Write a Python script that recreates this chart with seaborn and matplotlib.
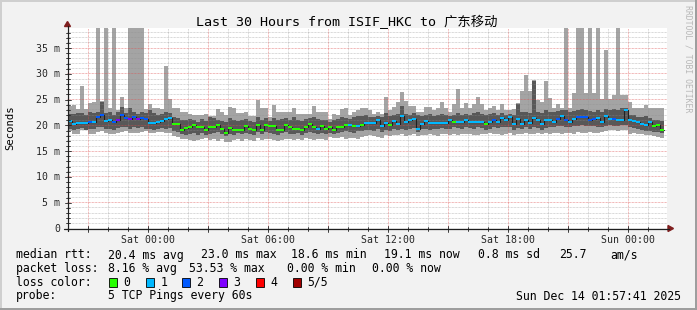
import numpy as np
import pandas as pd
import matplotlib
matplotlib.use("Agg")
import matplotlib.pyplot as plt
import seaborn as sns
from matplotlib.patches import Rectangle, Polygon
from matplotlib.lines import Line2D

# ---------------- data (ms), one entry per 12-minute bar, starting Fri 20:00 ----------------
ping_max = [23.6, 23.8, 23.0, 27.5, 23.0, 24.2, 24.4, 45, 24.6, 45,
            23.2, 45, 22.8, 25.5, 23.2, 45, 45, 45, 45, 23.0,
            24.0, 23.2, 23.2, 23.0, 31.5, 25.1, 23.3, 23.3, 22.5, 22.5,
            22.2, 21.9, 21.9, 22.0, 22.2, 21.7, 21.7, 23.0, 22.6, 21.9,
            23.5, 23.3, 22.3, 22.3, 22.6, 21.7, 21.7, 24.9, 23.2, 23.2,
            21.6, 23.8, 22.5, 22.5, 22.5, 22.5, 23.3, 22.2, 22.2, 22.1,
            22.2, 23.6, 22.5, 22.5, 22.5, 21.2, 22.2, 21.9, 23.0, 23.2,
            21.9, 22.5, 22.8, 23.2, 23.2, 22.8, 22.2, 22.5, 22.2, 25.4,
            22.8, 23.5, 24.4, 26.4, 24.6, 23.6, 23.6, 22.5, 22.6, 23.5,
            23.5, 22.8, 23.2, 24.4, 23.2, 22.5, 24.1, 27.0, 23.3, 24.2,
            23.3, 24.0, 25.4, 24.0, 22.8, 23.3, 23.6, 22.8, 24.0, 22.8,
            22.8, 23.0, 24.3, 26.5, 29.6, 26.5, 28.7, 24.8, 24.5, 28.6,
            25.3, 23.2, 24.0, 23.2, 45, 23.2, 26.2, 45, 45, 26.2,
            45, 26.2, 45, 25.1, 34.6, 25.1, 25.8, 45, 25.8, 25.8,
            24.4, 23.2, 23.2, 23.2, 23.8, 23.2, 23.2, 23.2, 23.2]
ping_p4 = [22.1, 22.1, 22.3, 22.3, 22.0, 22.5, 22.3, 22.6, 24.4, 22.3,
           22.5, 22.0, 22.6, 23.5, 22.4, 23.2, 22.5, 22.2, 22.6, 22.3,
           22.8, 22.4, 22.0, 22.2, 22.6, 22.4, 21.5, 21.4, 21.0, 20.9,
           21.2, 21.0, 20.6, 21.2, 20.8, 21.5, 21.3, 21.0, 20.8, 20.6,
           21.4, 21.0, 20.7, 20.9, 21.2, 20.8, 20.6, 21.6, 21.0, 21.3,
           20.8, 21.4, 20.9, 21.1, 21.3, 20.9, 21.5, 21.0, 20.8, 21.1,
           21.4, 21.6, 21.2, 21.0, 20.9, 20.6, 21.0, 21.2, 21.6, 21.4,
           21.1, 21.5, 21.7, 21.8, 21.9, 21.6, 21.5, 21.8, 21.6, 22.4,
           21.8, 22.0, 22.2, 23.6, 22.1, 22.0, 22.3, 21.9, 21.7, 22.0,
           22.1, 21.8, 21.9, 22.2, 22.0, 21.7, 21.9, 22.3, 22.0, 22.2,
           22.0, 22.3, 22.5, 22.2, 21.9, 22.1, 22.4, 22.0, 22.3, 22.0,
           22.2, 22.0, 24.1, 22.6, 22.6, 22.3, 28.6, 22.6, 22.4, 22.8,
           22.6, 22.5, 22.7, 22.9, 22.8, 22.5, 22.7, 22.9, 23.1, 22.8,
           22.7, 22.6, 22.9, 22.6, 23.0, 22.8, 23.0, 22.8, 23.2, 23.3,
           22.0, 21.9, 21.6, 21.5, 21.7, 21.4, 20.9, 20.9, 20.8]
median = [20.8, 20.1, 20.4, 20.4, 20.4, 20.6, 20.6, 21.5, 22.0, 20.8,
          20.9, 20.5, 20.9, 22.0, 21.4, 21.2, 21.5, 21.2, 21.4, 21.1,
          20.4, 20.4, 20.6, 20.8, 21.2, 21.4, 20.1, 20.1, 19.1, 19.4,
          19.6, 20.0, 19.6, 19.6, 19.1, 19.6, 19.6, 20.0, 19.3, 18.5,
          19.4, 19.1, 19.1, 19.1, 19.7, 19.3, 19.0, 19.9, 19.1, 20.0,
          19.7, 19.7, 19.1, 19.1, 20.0, 19.6, 19.3, 19.3, 19.1, 19.5,
          20.2, 19.6, 19.3, 19.8, 19.2, 19.5, 19.1, 19.5, 19.5, 20.0,
          20.0, 19.7, 19.8, 20.0, 20.4, 20.4, 20.4, 20.9, 19.8, 20.4,
          20.0, 20.75, 20.25, 21.7, 20.6, 20.9, 21.1, 19.2, 20.25, 20.75,
          20.4, 20.4, 20.4, 20.4, 20.4, 20.9, 20.5, 20.5, 20.6, 20.9,
          20.6, 20.6, 20.6, 20.6, 20.1, 20.6, 20.9, 20.6, 21.35, 21.0,
          21.5, 20.1, 21.1, 20.25, 21.0, 20.4, 21.4, 20.9, 20.1, 20.9,
          20.9, 20.6, 21.2, 21.7, 21.0, 20.5, 21.1, 21.45, 21.45, 21.45,
          21.0, 21.2, 21.4, 20.6, 21.7, 21.2, 21.1, 21.0, 21.0, 22.9,
          21.0, 20.7, 20.5, 20.2, 20.0, 20.6, 19.7, 20.0, 19.1]
ping_p2 = [19.3, 19.0, 19.2, 19.4, 19.1, 19.3, 19.2, 19.5, 19.6, 19.2,
           19.3, 19.0, 19.4, 19.6, 19.5, 19.3, 19.6, 19.4, 19.5, 19.3,
           19.2, 19.1, 19.3, 19.4, 19.2, 19.4, 18.8, 18.6, 18.2, 18.0,
           18.3, 18.5, 18.1, 18.4, 18.0, 18.3, 18.5, 18.6, 18.2, 17.9,
           18.3, 18.1, 18.4, 18.2, 18.5, 18.3, 18.0, 18.6, 18.2, 18.6,
           18.4, 18.3, 18.1, 18.4, 18.6, 18.3, 18.2, 18.4, 18.1, 18.5,
           18.7, 18.4, 18.3, 18.5, 18.2, 18.4, 18.3, 18.5, 18.6, 18.8,
           18.7, 18.5, 18.8, 18.9, 19.0, 19.1, 18.9, 19.2, 18.6, 19.1,
           18.9, 19.2, 19.0, 19.3, 19.1, 19.3, 19.4, 18.6, 19.2, 19.3,
           19.1, 19.2, 19.3, 19.4, 19.2, 19.3, 19.5, 19.4, 19.3, 19.5,
           19.4, 19.3, 19.5, 19.4, 19.1, 19.3, 19.5, 19.4, 19.6, 19.5,
           19.6, 19.1, 19.4, 19.2, 19.5, 19.3, 19.6, 19.4, 19.1, 19.4,
           19.5, 19.6, 19.7, 19.8, 19.6, 19.5, 19.7, 19.8, 19.9, 19.8,
           19.7, 19.8, 19.6, 19.5, 19.8, 19.9, 19.7, 19.8, 19.9, 19.9,
           19.6, 19.4, 19.3, 19.0, 18.8, 18.9, 18.6, 18.7, 18.5]
ping_min = [18.8, 18.3, 18.3, 19.0, 19.0, 18.3, 18.3, 18.6, 18.8, 18.4,
            18.2, 18.2, 18.5, 18.6, 18.9, 18.4, 18.4, 18.5, 18.6, 18.9,
            18.4, 18.5, 18.6, 18.7, 18.5, 18.5, 17.8, 17.6, 17.3, 17.3,
            17.0, 16.9, 17.1, 17.2, 17.4, 17.0, 17.3, 16.9, 17.2, 16.7,
            16.7, 17.0, 17.2, 16.9, 17.3, 17.1, 16.8, 17.4, 17.0, 17.2,
            17.3, 17.0, 16.8, 17.1, 17.3, 17.2, 17.0, 17.3, 17.1, 17.4,
            17.3, 17.0, 17.2, 17.3, 17.1, 17.6, 17.5, 17.4, 17.6, 17.3,
            17.5, 17.4, 17.3, 17.6, 17.8, 18.0, 17.9, 17.6, 17.4, 18.0,
            17.9, 18.1, 18.0, 18.2, 17.9, 18.0, 18.2, 17.8, 18.1, 18.0,
            18.2, 18.1, 17.9, 18.2, 18.3, 18.0, 18.2, 18.1, 18.3, 18.2,
            18.3, 18.1, 18.0, 18.3, 18.2, 18.4, 18.2, 18.3, 18.1, 18.3,
            18.4, 18.0, 18.3, 18.2, 18.4, 18.3, 18.2, 18.4, 18.3, 18.5,
            18.2, 18.4, 18.5, 18.3, 18.4, 18.5, 18.3, 18.6, 18.4, 18.5,
            18.6, 18.4, 18.5, 18.7, 18.8, 19.0, 19.0, 18.9, 19.0, 19.0,
            18.3, 18.4, 18.2, 18.3, 18.1, 18.0, 17.8, 17.6, 17.5]
loss = [1, 1, 1, 1, 1, 2, 1, 2, 2, 1,
        1, 2, 3, 2, 2, 3, 2, 3, 2, 2,
        1, 1, 1, 1, 1, 1, 0, 0, 0, 0,
        0, 0, 0, 0, 0, 0, 0, 0, 0, 0,
        0, 0, 0, 0, 0, 0, 0, 0, 0, 0,
        0, 0, 0, 0, 0, 0, 0, 0, 0, 0,
        0, 0, 1, 0, 0, 0, 0, 0, 0, 0,
        1, 0, 1, 0, 1, 1, 1, 1, 1, 1,
        0, 1, 1, 1, 1, 1, 1, 1, 1, 1,
        1, 1, 1, 1, 1, 1, 0, 1, 1, 1,
        1, 1, 1, 1, 0, 1, 2, 1, 1, 1,
        1, 1, 1, 1, 1, 1, 1, 1, 1, 1,
        1, 1, 2, 1, 2, 1, 1, 2, 2, 2,
        2, 2, 1, 1, 1, 1, 2, 1, 1, 1,
        1, 1, 1, 1, 1, 1, 0, 0, 0]

loss_labels = ["0", "1", "2", "3", "4", "5/5"]
loss_colors = ["#26ff00", "#00b8ff", "#0059ff", "#7e00ff", "#ff0000", "#a10000"]

y_ticks = [0, 5, 10, 15, 20, 25, 30, 35]
y_tick_labels = ["0", "5 m", "10 m", "15 m", "20 m", "25 m", "30 m", "35 m"]
x_ticks = [0, 6, 12, 18, 24]          # hours relative to Sat 00:00
x_tick_labels = ["Sat 00:00", "Sat 06:00", "Sat 12:00", "Sat 18:00", "Sun 00:00"]

title = "Last 30 Hours from ISIF_HKC to 广东移动"
legend_rows = [
    [(16, "median rtt:"), (107.5, "20.4 ms avg"), (201, "23.0 ms max"), (291, "18.6 ms min"),
     (384, "19.1 ms now"), (478, "0.8 ms sd"), (559, "25.7"), (610, "am/s")],
    [(16, "packet loss:"), (107.5, "8.16 % avg"), (189, "53.53 % max"), (287, "0.00 % min"),
     (372, "0.00 % now")],
]
probe_text = "5 TCP Pings every 60s"
stamp_text = "Sun Dec 14 01:57:41 2025"

# ---------------- figure ----------------
sns.set_theme(style="white")
plt.rcParams['font.family'] = ['DejaVu Sans Mono', 'Noto Sans CJK SC']
plt.rcParams['text.color'] = 'black'

W, H = 697, 310
fig = plt.figure(figsize=(W / 100, H / 100), dpi=100)
fig.patch.set_facecolor('#f2f2f2')

def fx(px):
    return px / W

def fy(py):
    return 1 - py / H

ax = fig.add_axes([fx(67), fy(228), 600 / W, 200 / H])
ax.set_facecolor('white')
X0 = -4.0386
ax.set_xlim(X0, X0 + 30)
YTOP = 38.8
ax.set_ylim(0, YTOP)
for s in ax.spines.values():
    s.set_visible(False)

n = len(median)
step = 0.2
xs = -4.0 + step * np.arange(n)
pmax = np.array(ping_max)
pmin = np.array(ping_min)
p2 = np.array(ping_p2)
p4 = np.array(ping_p4)
med = np.array(median)

ax.bar(xs, pmax - pmin, bottom=pmin, width=step, align='edge',
       color='#a4a4a4', linewidth=0, zorder=1)
ax.bar(xs, p4 - p2, bottom=p2, width=step, align='edge',
       color='#585858', linewidth=0, zorder=1.5)

# grid (drawn over the smoke, like rrdtool)
px_y = YTOP / 200.0
dash = (0, (0.72, 0.72))
for h in range(-4, 26):
    if h % 3 == 0:
        ax.axvline(h, color=(0.87, 0.31, 0.31), alpha=0.55, lw=0.72, ls=dash, zorder=3)
    else:
        ax.axvline(h, color=(0.56, 0.56, 0.56), alpha=0.45, lw=0.72, ls=dash, zorder=3)
for v in range(1, 39):
    if v % 5 == 0:
        ax.axhline(v, color=(0.87, 0.31, 0.31), alpha=0.55, lw=0.72, ls=dash, zorder=3)
    else:
        ax.axhline(v, color=(0.56, 0.56, 0.56), alpha=0.45, lw=0.72, ls=dash, zorder=3)

# median: thin dark step line + 2px coloured band by loss
line_df = pd.DataFrame({"t": np.append(xs, xs[-1] + step), "m": np.append(med, med[-1])})
sns.lineplot(data=line_df, x="t", y="m", drawstyle="steps-post", color="#202020",
             lw=0.8, estimator=None, sort=False, ax=ax, zorder=3.5)
bar_cols = [loss_colors[k] for k in loss]
ax.bar(xs, 2 * px_y, bottom=med - px_y, width=step, align='edge',
       color=bar_cols, linewidth=0, zorder=4)

ax.set_xlabel("")
ax.set_ylabel("")
ax.set_xticks(x_ticks)
ax.set_xticklabels(x_tick_labels, fontsize=7.1)
ax.set_yticks(y_ticks)
ax.set_yticklabels(y_tick_labels, fontsize=7.1)
ax.tick_params(axis='both', length=0)
ax.tick_params(axis='x', pad=5)
ax.tick_params(axis='y', pad=5)

# axes lines and arrows
axis_col = (0.12, 0.12, 0.12)
arrow_col = (0.5, 0.12, 0.12)
fig.add_artist(Line2D([fx(64), fx(669)], [fy(228.5), fy(228.5)], color=axis_col, lw=0.9))
fig.add_artist(Line2D([fx(67.5), fx(67.5)], [fy(231), fy(26)], color=axis_col, lw=0.9))
fig.add_artist(Polygon([(fx(668), fy(225.5)), (fx(673.5), fy(228.5)), (fx(668), fy(231.5))],
                       closed=True, color=arrow_col, transform=fig.transFigure))
fig.add_artist(Polygon([(fx(64.5), fy(26.5)), (fx(67.5), fy(21.5)), (fx(70.5), fy(26.5))],
                       closed=True, color=arrow_col, transform=fig.transFigure))
# small ticks on axes
for h in range(-4, 26):
    xp = 67 + (h - X0) * 20
    ln = 3 if h % 3 == 0 else 2
    fig.add_artist(Line2D([fx(xp), fx(xp)], [fy(228.5 - ln), fy(228.5 + ln)], color=axis_col, lw=0.6))
for v in range(0, 39):
    yp = 228.5 - v * 200 / YTOP
    ln = 3 if v % 5 == 0 else 2
    fig.add_artist(Line2D([fx(67.5 - ln), fx(67.5 + ln)], [fy(yp), fy(yp)], color=axis_col, lw=0.6))

# texts
fig.text(fx(347), fy(22), title, ha='center', va='center', fontsize=9.6,
         family=['DejaVu Sans Mono', 'Noto Sans CJK SC'])
fig.text(fx(10), fy(128), "Seconds", rotation=90, ha='center', va='center', fontsize=7.6)
fig.text(fx(688), fy(59), "RRDTOOL / TOBI OETIKER", rotation=270, ha='center', va='center',
         fontsize=5.9, color='#b8b8b8')

LEG_FS = 8.3
row_y = [255, 268.5, 282, 296]
for r, items in enumerate(legend_rows):
    for xp, txt in items:
        fig.text(fx(xp), fy(row_y[r]), txt, ha='left', va='center', fontsize=LEG_FS)
fig.text(fx(16), fy(row_y[2]), "loss color:", ha='left', va='center', fontsize=LEG_FS)
sw_x = [109, 146, 182, 219, 256, 293]
for k, lab in enumerate(loss_labels):
    fig.add_artist(Rectangle((fx(sw_x[k]), fy(row_y[2] + 4.5)), 8 / W, 9 / H,
                             facecolor=loss_colors[k], edgecolor='black', lw=0.6,
                             transform=fig.transFigure))
    fig.text(fx(sw_x[k] + 14.5), fy(row_y[2]), lab, ha='left', va='center', fontsize=LEG_FS)
fig.text(fx(16), fy(row_y[3]), "probe:", ha='left', va='center', fontsize=LEG_FS)
fig.text(fx(107.5), fy(row_y[3]), probe_text, ha='left', va='center', fontsize=LEG_FS)
fig.text(fx(681), fy(row_y[3]), stamp_text, ha='right', va='center', fontsize=LEG_FS)

# 3D-ish frame like rrdtool
fig.add_artist(Rectangle((0, fy(2)), 1, 2 / H, color='#cfcfcf', transform=fig.transFigure, lw=0))
fig.add_artist(Rectangle((0, 0), 2 / W, 1, color='#cfcfcf', transform=fig.transFigure, lw=0))
fig.add_artist(Rectangle((0, 0), 1, 2 / H, color='#9e9e9e', transform=fig.transFigure, lw=0))
fig.add_artist(Rectangle((fx(695), 0), 2 / W, 1, color='#9e9e9e', transform=fig.transFigure, lw=0))

fig.savefig("out.png", dpi=100, facecolor=fig.get_facecolor())
